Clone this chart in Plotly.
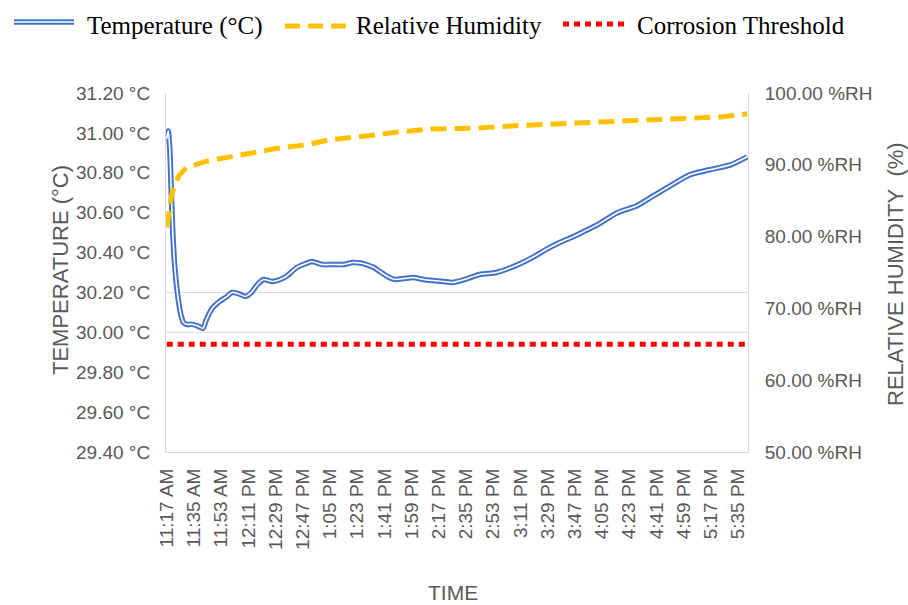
import pandas as pd
import plotly.graph_objects as go

# ---- data ----
temp_times = ["11:17", "11:18", "11:19", "11:20", "11:21", "11:22", "11:23", "11:24", "11:26", "11:28",
              "11:30", "11:34", "11:38", "11:41", "11:43", "11:47", "11:52", "11:57", "12:00", "12:04",
              "12:09", "12:13", "12:17", "12:21", "12:27", "12:32", "12:36", "12:43", "12:49", "12:53",
              "13:00", "13:07", "13:14", "13:20", "13:25", "13:29", "13:34", "13:38", "13:43", "13:48",
              "13:54", "14:00", "14:07", "14:13", "14:20", "14:26", "14:34", "14:44", "14:55", "15:03",
              "15:11", "15:20", "15:29", "15:37", "15:46", "15:54", "16:02", "16:15", "16:28", "16:38",
              "16:48", "17:03", "17:16", "17:30", "17:41"]
temp_values = [30.97, 31.01, 30.92, 30.70, 30.50, 30.36, 30.27, 30.20, 30.10, 30.05,
               30.04, 30.04, 30.03, 30.02, 30.06, 30.12, 30.155, 30.18, 30.20, 30.195,
               30.18, 30.20, 30.24, 30.265, 30.255, 30.265, 30.28, 30.325, 30.345, 30.355,
               30.34, 30.34, 30.34, 30.35, 30.348, 30.34, 30.325, 30.305, 30.28, 30.265,
               30.27, 30.275, 30.265, 30.26, 30.255, 30.25, 30.265, 30.29, 30.30, 30.32,
               30.345, 30.38, 30.42, 30.45, 30.48, 30.51, 30.54, 30.60, 30.635, 30.68,
               30.725, 30.79, 30.815, 30.84, 30.88]

rh_times = ["11:17", "11:18", "11:20", "11:22", "11:25", "11:30", "11:43", "11:59", "12:12", "12:30",
            "12:50", "13:05", "13:29", "13:51", "14:13", "14:40", "15:13", "15:46", "16:19", "16:52",
            "17:25", "17:41"]
rh_values = [81.3, 83.0, 85.5, 87.0, 88.5, 89.6, 90.5, 91.1, 91.6, 92.3,
             92.8, 93.5, 94.0, 94.6, 95.0, 95.1, 95.5, 95.8, 96.1, 96.4,
             96.7, 97.1]

threshold_rh = 65.0

x_tick_times = ["11:17", "11:35", "11:53", "12:11", "12:29", "12:47", "13:05", "13:23", "13:41", "13:59",
                "14:17", "14:35", "14:53", "15:11", "15:29", "15:47", "16:05", "16:23", "16:41", "16:59",
                "17:17", "17:35"]
x_tick_labels = ["11:17 AM", "11:35 AM", "11:53 AM", "12:11 PM", "12:29 PM", "12:47 PM", "1:05 PM",
                 "1:23 PM", "1:41 PM", "1:59 PM", "2:17 PM", "2:35 PM", "2:53 PM", "3:11 PM", "3:29 PM",
                 "3:47 PM", "4:05 PM", "4:23 PM", "4:41 PM", "4:59 PM", "5:17 PM", "5:35 PM"]
temp_ticks = [29.4, 29.6, 29.8, 30.0, 30.2, 30.4, 30.6, 30.8, 31.0, 31.2]
temp_tick_labels = ["29.40 °C", "29.60 °C", "29.80 °C", "30.00 °C", "30.20 °C", "30.40 °C",
                    "30.60 °C", "30.80 °C", "31.00 °C", "31.20 °C"]
rh_ticks = [50, 60, 70, 80, 90, 100]
rh_tick_labels = ["50.00 %RH", "60.00 %RH", "70.00 %RH", "80.00 %RH", "90.00 %RH", "100.00 %RH"]

DAY = "2020-01-01 "
def to_dt(lst):
    return pd.to_datetime([DAY + t for t in lst])

tx = to_dt(temp_times)
rx = to_dt(rh_times)

BLUE = "#4472C4"
YELLOW = "#FFC000"
RED = "#FF0000"
GREY = "#595959"
LINE_GREY = "#D9D9D9"

fig = go.Figure()

# Relative humidity (right axis)
fig.add_trace(go.Scatter(x=rx, y=rh_values, mode="lines", yaxis="y2", name="Relative Humidity",
                         line=dict(color=YELLOW, width=5, dash="16px,8px"), showlegend=False))
# Corrosion threshold (right axis)
fig.add_trace(go.Scatter(x=[rx[0], rx[-1]], y=[threshold_rh, threshold_rh], mode="lines", yaxis="y2",
                         name="Corrosion Threshold",
                         line=dict(color=RED, width=5, dash="6px,5px"), showlegend=False))
# Temperature: double line (blue outer, white inner)
fig.add_trace(go.Scatter(x=tx, y=temp_values, mode="lines", name="Temperature (°C)",
                         line=dict(color=BLUE, width=5.5, shape="spline", smoothing=0.6), showlegend=False))
fig.add_trace(go.Scatter(x=tx, y=temp_values, mode="lines", name="Temperature inner",
                         line=dict(color="white", width=1.6, shape="spline", smoothing=0.6), showlegend=False,
                         hoverinfo="skip"))

# light grid lines (only these are visible in the reference)
shapes = []
for gy in [30.0, 30.2]:
    shapes.append(dict(type="line", xref="paper", yref="y", x0=0, x1=1, y0=gy, y1=gy,
                       line=dict(color=LINE_GREY, width=1), layer="below"))

# manual legend
PW, PH = 582.0, 359.0
L, B = 166.0, 452.0
def px(xp):
    return (xp - L) / PW
def py(yp):
    return (B - yp) / PH

shapes += [
    dict(type="line", xref="paper", yref="paper", x0=px(14), x1=px(74), y0=py(22), y1=py(22),
         line=dict(color=BLUE, width=5.5)),
    dict(type="line", xref="paper", yref="paper", x0=px(14), x1=px(74), y0=py(22), y1=py(22),
         line=dict(color="white", width=1.6)),
    dict(type="line", xref="paper", yref="paper", x0=px(285), x1=px(346), y0=py(26), y1=py(26),
         line=dict(color=YELLOW, width=5, dash="15px,8px")),
    dict(type="line", xref="paper", yref="paper", x0=px(563), x1=px(624), y0=py(24), y1=py(24),
         line=dict(color=RED, width=5, dash="6px,5px")),
]

legend_font = dict(family="Liberation Serif", size=25, color="#000000")
ly = 26
annotations = [
    dict(text="Temperature (°C)", xref="paper", yref="paper", x=px(85), y=py(ly), xanchor="left",
         yanchor="middle", showarrow=False, font=legend_font),
    dict(text="Relative Humidity", xref="paper", yref="paper", x=px(354), y=py(ly), xanchor="left",
         yanchor="middle", showarrow=False, font=legend_font),
    dict(text="Corrosion Threshold", xref="paper", yref="paper", x=px(635), y=py(ly), xanchor="left",
         yanchor="middle", showarrow=False, font=legend_font),
    dict(text="TEMPERATURE (°C)", xref="paper", yref="paper", x=px(60), y=py(270), xanchor="center",
         yanchor="middle", textangle=-90, showarrow=False,
         font=dict(family="Liberation Sans", size=22, color=GREY)),
    dict(text="RELATIVE HUMIDITY\u00a0 (%)", xref="paper", yref="paper", x=px(895), y=py(274),
         xanchor="center", yanchor="middle", textangle=-90, showarrow=False,
         font=dict(family="Liberation Sans", size=22, color=GREY)),
    dict(text="TIME", xref="paper", yref="paper", x=px(453), y=py(592), xanchor="center",
         yanchor="middle", showarrow=False,
         font=dict(family="Liberation Sans", size=21, color=GREY)),
]

tick_font = dict(family="Liberation Sans", size=19, color=GREY)

fig.update_layout(
    width=908, height=605,
    margin=dict(l=166, r=160, t=93, b=153),
    paper_bgcolor="white", plot_bgcolor="white",
    showlegend=False,
    shapes=shapes,
    annotations=annotations,
    xaxis=dict(
        type="date",
        range=[pd.Timestamp(DAY + "11:16:30"), pd.Timestamp(DAY + "17:41:30")],
        tickmode="array", tickvals=to_dt(x_tick_times), ticktext=x_tick_labels,
        tickangle=-90, tickfont=tick_font, showgrid=False, zeroline=False,
        showline=True, linecolor=LINE_GREY, linewidth=1, mirror=False, ticks="", ticklabelstandoff=8,
    ),
    yaxis=dict(
        range=[29.4, 31.2], tickmode="array", tickvals=temp_ticks, ticktext=temp_tick_labels,
        tickfont=tick_font, showgrid=False, zeroline=False, showline=True, linecolor=LINE_GREY,
        linewidth=1, ticks="", ticklabelstandoff=11,
    ),
    yaxis2=dict(
        range=[50, 100], overlaying="y", side="right", tickmode="array", tickvals=rh_ticks,
        ticktext=rh_tick_labels, tickfont=tick_font, showgrid=False, zeroline=False, showline=True,
        linecolor=LINE_GREY, linewidth=1, ticks="", ticklabelstandoff=12,
    ),
)

fig.write_html("out.html", config={"displayModeBar": False},
               post_script="document.body.style.margin='0';document.body.style.overflow='hidden';")
